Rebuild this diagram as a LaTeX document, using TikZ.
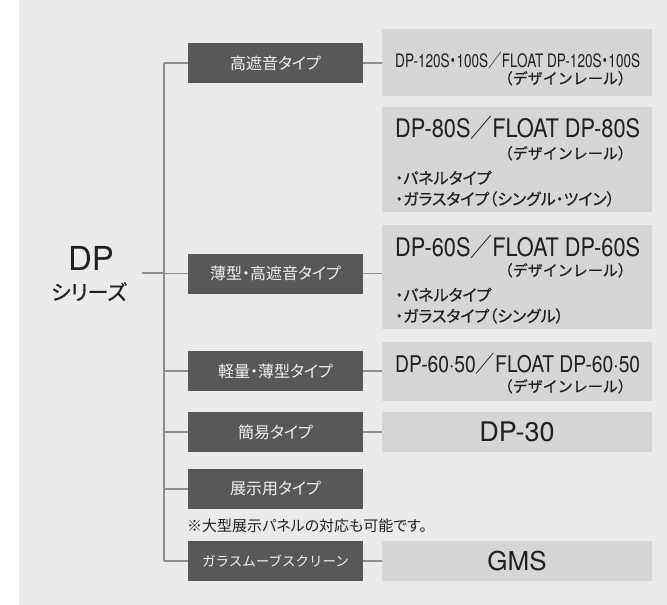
\documentclass[tikz,border=0pt]{standalone}
\usepackage{fontspec}
\usepackage{graphicx}
\setmainfont{TeX Gyre Heros}
\newfontfamily\jp{Noto Sans CJK JP}
\newfontfamily\jpp[RawFeature=+palt]{Noto Sans CJK JP}
\newfontfamily\jpm[RawFeature=+palt,FakeBold=0.6]{Noto Sans CJK JP}
\newfontfamily\jpf[FakeBold=0.6]{Noto Sans CJK JP}
\definecolor{bgc}{HTML}{EBEBED}
\definecolor{dkc}{HTML}{58585A}
\definecolor{ltc}{HTML}{D6D6D8}
\definecolor{linec}{HTML}{8E8E90}
\definecolor{txt}{HTML}{231F20}
\definecolor{dktxt}{HTML}{F2F2F2}
\newcommand{\fs}[1]{\fontsize{#1}{#1}\selectfont}
\newcommand{\wfit}[1]{\resizebox{245pt}{\height}{#1}}
\newcommand{\md}{{\jpp ・}}
\begin{document}
\begin{tikzpicture}[x=1pt,y=-1pt,
  dkbox/.style={fill=dkc, text=dktxt, minimum width=175pt, minimum height=40pt, inner sep=0pt, font=\jpp\fs{16}},
  ltbox/.style={fill=ltc, minimum width=270pt, inner sep=0pt, anchor=north west, text=txt},
  conn/.style={draw=linec, line width=1.3pt},
  tl/.style={inner sep=0pt, text=txt},
  rail/.style={tl, anchor=base east, font=\jpf\fs{15}},
  bul/.style={tl, anchor=base west, font=\jpm\fs{16}}]
\useasboundingbox (0,0) rectangle (667,605);
\fill[bgc] (19,0) rectangle (667,605);

% root
\node[tl, anchor=base, font=\fs{33}] (rootA) at (91,270) {DP};
\node[tl, anchor=base, font=\jpm\fs{21}] (rootB) at (89,300) {シリーズ};
\coordinate (rootc) at (142,273);
\coordinate (trunk) at (164,273);

% dark boxes
\node[dkbox] (b1) at (275.5,63) {高遮音タイプ};
\node[dkbox] (b2) at (275.5,273.5) {薄型・高遮音タイプ};
\node[dkbox] (b3) at (275.5,371) {軽量・薄型タイプ};
\node[dkbox] (b4) at (275.5,432) {簡易タイプ};
\node[dkbox] (b5) at (275.5,489) {展示用タイプ};
\node[dkbox, font=\jp\fs{13.5}] (b6) at (275.5,561) {ガラスムーブスクリーン};

\node[tl, anchor=base west, font=\jpp\fs{15}] (note) at (187,531) {※大型展示パネルの対応も可能です。};

% light boxes
\node[ltbox, minimum height=67pt] (l1) at (382,29) {};
\node[ltbox, minimum height=105pt] (l2) at (382,107) {};
\node[ltbox, minimum height=104pt] (l3) at (382,225) {};
\node[ltbox, minimum height=59pt] (l4) at (382,342) {};
\node[ltbox, minimum height=40pt, anchor=center, font=\fs{27}] (l5) at (517,432) {DP-30};
\node[ltbox, minimum height=40pt, anchor=center, font=\fs{26}] (l6) at (517,561) {GMS};

% texts in light boxes
\node[tl, anchor=base west] (t1a) at (395,67) {\wfit{\fs{18.5}DP-120S\md 100S{\jp／}FLOAT DP-120S\md 100S}};
\node[rail] (t1b) at (633,84) {（デザインレール）};

\node[tl, anchor=base west] (t2a) at (395,137) {\wfit{\fs{25.5}DP-80S{\jp／}FLOAT DP-80S}};
\node[rail] (t2b) at (633,159) {（デザインレール）};
\node[bul] (t2c) at (395,184) {・パネルタイプ};
\node[bul] (t2d) at (395,205) {・ガラスタイプ（シングル・ツイン）};

\node[tl, anchor=base west] (t3a) at (395,256) {\wfit{\fs{25.5}DP-60S{\jp／}FLOAT DP-60S}};
\node[rail] (t3b) at (633,276) {（デザインレール）};
\node[bul] (t3c) at (395,301) {・パネルタイプ};
\node[bul] (t3d) at (395,322) {・ガラスタイプ（シングル）};

\node[tl, anchor=base west] (t4a) at (395,372) {\wfit{\fs{23}DP-60·50{\jp／}FLOAT DP-60·50}};
\node[rail] (t4b) at (633,392) {（デザインレール）};

% connectors
\draw[conn] (rootc) -- (trunk);
\draw[conn] (b1.west -| trunk) -- (b6.west -| trunk);
\foreach \b in {b1,b2,b3,b4,b5,b6} \draw[conn] (\b.west) -- (\b.west -| trunk);
\draw[conn] (b1.east) -- (b1.east -| l1.west);
\draw[conn] (b2.east) -- (b2.east -| l3.west);
\draw[conn] (b3.east) -- (b3.east -| l4.west);
\draw[conn] (b4.east) -- (l5.west);
\draw[conn] (b6.east) -- (l6.west);
\end{tikzpicture}
\end{document}
